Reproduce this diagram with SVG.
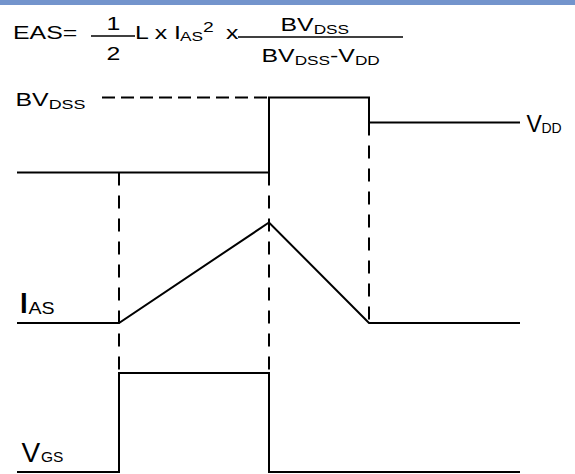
<svg xmlns="http://www.w3.org/2000/svg" width="575" height="474" viewBox="0 0 575 474">
<style>
.w{fill:none;stroke:#000;stroke-width:2;stroke-linejoin:miter}
.d{fill:none;stroke:#000;stroke-width:2;stroke-dasharray:13 10}
.dh{fill:none;stroke:#000;stroke-width:2;stroke-dasharray:13 6}
.fl{stroke:#000;stroke-width:1.5}
text{font-family:"Liberation Sans",Arial,sans-serif;fill:#000}
.f{font-size:18px}
.s{font-size:12.5px}
</style>
<rect x="0" y="0" width="575" height="5" fill="#7394cc"/>
<g id="formula">
<text class="f" transform="translate(13,39) scale(1.38,1)">EAS=</text>
<line class="fl" x1="91" y1="36" x2="135" y2="36"/>
<text class="f" text-anchor="middle" transform="translate(113.5,30) scale(1.38,1)">1</text>
<text class="f" text-anchor="middle" transform="translate(113.5,60) scale(1.38,1)">2</text>
<text class="f" transform="translate(135,39) scale(1.38,1)">L x I</text>
<text class="s" transform="translate(180,41) scale(1.38,1)">AS</text>
<text style="font-size:14px" transform="translate(203,32) scale(1.38,1)">2</text>
<text class="f" transform="translate(226,39) scale(1.38,1)">x</text>
<line class="fl" x1="238" y1="37" x2="403" y2="37"/>
<text class="f" transform="translate(280.5,31) scale(1.38,1)">BV<tspan class="s" dy="2.5">DSS</tspan></text>
<text class="f" transform="translate(261.5,62) scale(1.38,1)">BV<tspan class="s" dy="3">DSS</tspan><tspan dy="-3">-V</tspan><tspan class="s" dy="3">DD</tspan></text>
</g>
<g id="labels">
<text class="f" transform="translate(15.5,106) scale(1.38,1)">BV<tspan style="font-size:13px" dy="3">DSS</tspan></text>
<text style="font-size:23px" x="526.5" y="132">V</text>
<text style="font-size:14px" x="541.5" y="133">DD</text>
<text style="font-size:30px" transform="translate(18,313) scale(1.4,1)">I</text>
<text style="font-size:17px" transform="translate(28.5,314) scale(1.15,1)">AS</text>
<text style="font-size:28px" x="21.5" y="461.7">V</text>
<text style="font-size:15.5px" x="41" y="462.3">GS</text>
</g>
<g id="connectors">
<line class="dh" x1="102" y1="97.5" x2="269" y2="97.5"/>
<line class="d" x1="119" y1="172.5" x2="119" y2="373"/>
<line class="d" x1="269" y1="172.5" x2="269" y2="373"/>
<line class="d" x1="369" y1="122.5" x2="369" y2="323"/>
</g>
<g id="vds">
<polyline class="w" points="17,172.5 269,172.5 269,97.5 369,97.5 369,122.5 520,122.5"/>
</g>
<g id="ias">
<polyline class="w" points="17,323 119,323 269,222.5 369,323 520,323"/>
</g>
<g id="vgs">
<polyline class="w" points="17,472 119,472 119,373 269,373 269,472 520,472"/>
</g>
</svg>
